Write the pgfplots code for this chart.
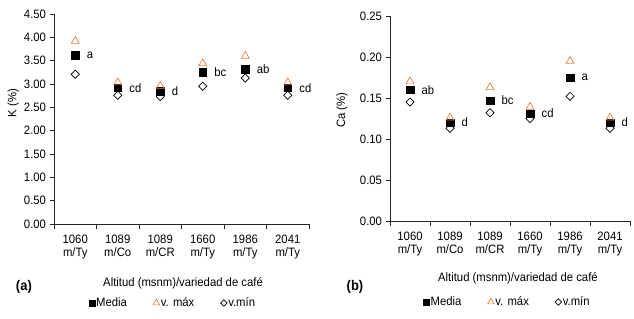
\documentclass[border=0pt]{standalone}
\usepackage{fontspec}
\setmainfont{Liberation Sans}[FakeStretch=0.93]
\usepackage{pgfplots}
\pgfplotsset{compat=1.18}
\definecolor{orng}{RGB}{232,128,60}
\newcommand\fs{\fontsize{12.2}{13.5}\selectfont}
\tikzset{lett/.style={anchor=west, inner sep=0pt, xshift=11.5bp, font=\fs}}
\pgfplotsset{
 mystyle/.style={
  scale only axis,
  axis x line*=bottom, axis y line*=left,
  xmin=0, xmax=6,
  xtick={0,...,6}, xticklabels={},
  extra x ticks={0.5,1.5,2.5,3.5,4.5,5.5},
  extra x tick labels={{1060\\m/Ty},{1089\\m/Co},{1089\\m/CR},{1660\\m/Ty},{1986\\m/Ty},{2041\\m/Ty}},
  extra x tick style={major tick length=0pt, xticklabel style={align=center, yshift=-7bp}},
  xticklabel style={align=center},
  tick align=outside, major tick length=4.5bp,
  tick style={black!85, line width=0.7pt},
  axis line style={black!85, line width=0.7pt},
  every tick label/.append style={font=\fs},
  label style={font=\fs},
  /pgf/number format/assume math mode=true,
  yticklabel style={/pgf/number format/.cd, fixed, fixed zerofill, precision=2},
  clip=false,
  legend columns=3,
  legend style={draw=none, fill=none, font=\fs, anchor=center,
    /tikz/every even column/.append style={column sep=25bp},
    nodes={inner sep=1.2bp}, cells={anchor=west}, inner sep=0pt},
 },
 media/.style={only marks, mark=square*, mark size=3.7bp, mark options={fill=black, draw=black},
   legend image code/.code={\draw[black, fill=black] plot[mark=square*, mark size=3bp] coordinates {(0bp,0bp)};}},
 vmax/.style={only marks, mark=triangle, mark size=4.6bp, mark options={draw=orng, line width=0.7pt, fill=white},
   legend image code/.code={\draw[orng, line width=0.7pt] plot[mark=triangle, mark size=3.8bp] coordinates {(0bp,0bp)};}},
 vmin/.style={only marks, mark=square, mark size=2.9bp, mark options={rotate=45, draw=black, line width=0.7pt, fill=white},
   legend image code/.code={\draw[black, line width=0.7pt] plot[mark=square, mark size=2.3bp, mark options={rotate=45}] coordinates {(0bp,0bp)};}},
}
\begin{document}
\begin{tikzpicture}[x=1bp,y=1bp]
\useasboundingbox (0,0) rectangle (634,318);
% ---------- (a) K ----------
\begin{axis}[mystyle,
  at={(54bp,94bp)}, anchor=south west,
  width=255bp, height=210bp,
  ymin=0, ymax=4.5, ytick={0,0.5,...,4.5},
  ylabel={K (\%)},
  ylabel style={at={(axis description cs:-0.16,0.576)}, anchor=center},
  xlabel={Altitud (msnm)/variedad de café},
  xlabel style={at={(axis description cs:0.506,-0.281)}, anchor=center},
  legend style={at={(axis description cs:0.465,-0.376)}},
]
\addplot[media] coordinates {(0.5,3.62) (1.5,2.92) (2.5,2.85) (3.5,3.25) (4.5,3.32) (5.5,2.92)};
\addlegendentry{Media}
\addplot[vmax] coordinates {(0.5,3.92) (1.5,3.03) (2.5,2.96) (3.5,3.44) (4.5,3.60) (5.5,3.03)};
\addlegendentry{v. máx}
\addplot[vmin] coordinates {(0.5,3.21) (1.5,2.76) (2.5,2.73) (3.5,2.95) (4.5,3.13) (5.5,2.76)};
\addlegendentry{v.mín}
\node[lett] at (axis cs:0.5,3.62) {a};
\node[lett] at (axis cs:1.5,2.92) {cd};
\node[lett] at (axis cs:2.5,2.85) {d};
\node[lett] at (axis cs:3.5,3.25) {bc};
\node[lett] at (axis cs:4.5,3.32) {ab};
\node[lett] at (axis cs:5.5,2.92) {cd};
\node[font=\bfseries\fontsize{14}{16}\selectfont] at (axis description cs:-0.118,-0.3) {(a)};
\end{axis}
% ---------- (b) Ca ----------
\begin{axis}[mystyle,
  at={(390bp,97bp)}, anchor=south west,
  width=240bp, height=205bp,
  ymin=0, ymax=0.25, ytick={0,0.05,...,0.25},
  ylabel={Ca (\%)},
  ylabel style={at={(axis description cs:-0.2,0.54)}, anchor=center},
  xlabel={Altitud (msnm)/variedad de café},
  xlabel style={at={(axis description cs:0.533,-0.278)}, anchor=center},
  legend style={at={(axis description cs:0.488,-0.395)}},
]
\addplot[media] coordinates {(0.5,0.160) (1.5,0.120) (2.5,0.147) (3.5,0.131) (4.5,0.175) (5.5,0.120)};
\addlegendentry{Media}
\addplot[vmax] coordinates {(0.5,0.170) (1.5,0.126) (2.5,0.163) (3.5,0.139) (4.5,0.195) (5.5,0.126)};
\addlegendentry{v. máx}
\addplot[vmin] coordinates {(0.5,0.145) (1.5,0.113) (2.5,0.132) (3.5,0.125) (4.5,0.152) (5.5,0.113)};
\addlegendentry{v.mín}
\node[lett] at (axis cs:0.5,0.160) {ab};
\node[lett] at (axis cs:1.5,0.120) {d};
\node[lett] at (axis cs:2.5,0.147) {bc};
\node[lett] at (axis cs:3.5,0.131) {cd};
\node[lett] at (axis cs:4.5,0.175) {a};
\node[lett] at (axis cs:5.5,0.120) {d};
\node[font=\bfseries\fontsize{14}{16}\selectfont] at (axis description cs:-0.146,-0.322) {(b)};
\end{axis}
\end{tikzpicture}
\end{document}
